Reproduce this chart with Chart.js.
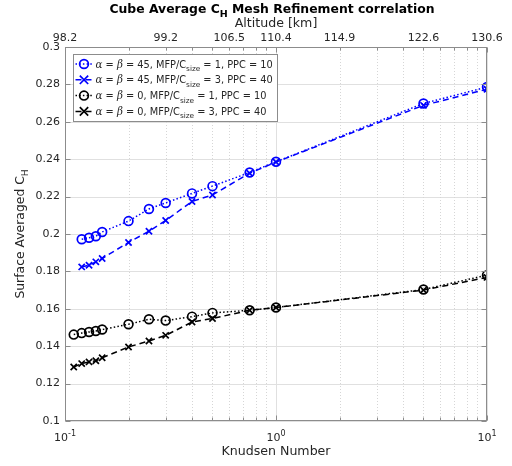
<!DOCTYPE html>
<html>
<head>
<meta charset="utf-8">
<script src="https://cdn.jsdelivr.net/npm/chart.js@4/dist/chart.umd.min.js"></script>
<style>
html,body{margin:0;padding:0;background:#fff;}
#wrap{width:512px;height:466px;position:relative;}
</style>
</head>
<body>
<div id="wrap"><canvas id="c" width="512" height="466"></canvas></div>
<script>
// ---------- data ----------
const knudsenBlue = [0.12, 0.13, 0.14, 0.15, 0.2, 0.25, 0.3, 0.4, 0.5, 0.75, 1, 5, 10];
const knudsenBlack = [0.11, 0.12, 0.13, 0.14, 0.15, 0.2, 0.25, 0.3, 0.4, 0.5, 0.75, 1, 5, 10];
const blueCircles = [0.1972, 0.1980, 0.1988, 0.2011, 0.2069, 0.2134, 0.2166, 0.2217, 0.2256, 0.2329, 0.2386, 0.2698, 0.2786];
const blueCrosses = [0.1824, 0.1833, 0.1851, 0.1869, 0.1955, 0.2015, 0.2072, 0.2174, 0.2209, 0.2325, 0.2385, 0.2688, 0.2774];
const blackCircles = [0.1462, 0.1470, 0.1476, 0.1481, 0.1489, 0.1517, 0.1544, 0.1537, 0.1558, 0.1578, 0.1592, 0.1607, 0.1703, 0.1780];
const blackCrosses = [0.1289, 0.1307, 0.1316, 0.1322, 0.1338, 0.1396, 0.1428, 0.1458, 0.1529, 0.1548, 0.1592, 0.1607, 0.1700, 0.1768];
const yTickValues = [0.1, 0.12, 0.14, 0.16, 0.18, 0.2, 0.22, 0.24, 0.26, 0.28, 0.3];
const xTickValues = [0.1, 0.2, 0.3, 0.4, 0.5, 0.6, 0.7, 0.8, 0.9, 1, 2, 3, 4, 5, 6, 7, 8, 9, 10];
const xMajorValues = [0.1, 1, 10];
const xMajorExponents = ['-1', '0', '1'];
const altitudeKn = [0.1, 0.3, 0.6, 1, 2, 5, 10];
const altitudeLabels = ['98.2', '99.2', '106.5', '110.4', '114.9', '122.6', '130.6'];
const legendParams = [
  {ab: '45', mfp: '1', ppc: '10'},
  {ab: '45', mfp: '3', ppc: '40'},
  {ab: '0', mfp: '1', ppc: '10'},
  {ab: '0', mfp: '3', ppc: '40'}
];

// ---------- styling ----------
const FONT = "'DejaVu Sans', sans-serif";
const TXT = '#262626';
const BLUE = '#0000ff';
const BLACK = '#000000';
const DOT = [1.5, 2.2];
const DASH = [6, 4];

function pts(xs, ys) { return xs.map((x, i) => ({x: x, y: ys[i]})); }
function ds(label, xs, ys, color, dash, style) {
  return {
    label: label, data: pts(xs, ys),
    borderColor: color, backgroundColor: 'rgba(0,0,0,0)',
    borderWidth: 1.5, borderDash: dash, tension: 0, fill: false,
    pointStyle: style, pointRadius: 4.4, pointBorderWidth: 1.7,
    pointBorderColor: color, pointBackgroundColor: 'rgba(0,0,0,0)',
    xAxisID: 'x', yAxisID: 'y'
  };
}
function legendLabel(p) {
  return '\u03B1 = \u03B2 = ' + p.ab + ', MFP/Csize = ' + p.mfp + ', PPC = ' + p.ppc;
}

const datasets = [
  ds(legendLabel(legendParams[0]), knudsenBlue, blueCircles, BLUE, DOT, 'circle'),
  ds(legendLabel(legendParams[1]), knudsenBlue, blueCrosses, BLUE, DASH, 'crossRot'),
  ds(legendLabel(legendParams[2]), knudsenBlack, blackCircles, BLACK, DOT, 'circle'),
  ds(legendLabel(legendParams[3]), knudsenBlack, blackCrosses, BLACK, DASH, 'crossRot')
];

function richWidth(ctx, segs) {
  let w = 0;
  segs.forEach(s => { ctx.font = s.font; w += ctx.measureText(s.t).width; });
  return w;
}
function drawRich(ctx, segs, x, y, align) {
  const w = richWidth(ctx, segs);
  let cx = align === 'center' ? x - w / 2 : x;
  ctx.textBaseline = 'alphabetic';
  ctx.textAlign = 'left';
  segs.forEach(s => {
    ctx.font = s.font;
    ctx.fillText(s.t, cx, y + (s.dy || 0));
    cx += ctx.measureText(s.t).width;
  });
}

function drawMarker(ctx, style, x, y, r) {
  ctx.beginPath();
  if (style === 'circle') {
    ctx.arc(x, y, r, 0, Math.PI * 2);
  } else {
    const d = r * 0.95;
    ctx.moveTo(x - d, y - d); ctx.lineTo(x + d, y + d);
    ctx.moveTo(x + d, y - d); ctx.lineTo(x - d, y + d);
  }
  ctx.stroke();
}

const deco = {
  id: 'deco',
  beforeDatasetsDraw(chart) {
    const {ctx, chartArea: a, scales: {x, y}} = chart;
    ctx.save();
    ctx.lineWidth = 1;
    ctx.strokeStyle = '#e0e0e0';
    yTickValues.forEach(v => {
      const py = Math.round(y.getPixelForValue(v)) + 0.5;
      ctx.beginPath(); ctx.moveTo(a.left, py); ctx.lineTo(a.right, py); ctx.stroke();
    });
    xTickValues.forEach(v => {
      const px = Math.round(x.getPixelForValue(v)) + 0.5;
      const major = xMajorValues.indexOf(v) >= 0;
      ctx.setLineDash(major ? [] : [1, 2]);
      ctx.strokeStyle = major ? '#e0e0e0' : '#d6d6d6';
      ctx.beginPath(); ctx.moveTo(px, a.top); ctx.lineTo(px, a.bottom); ctx.stroke();
    });
    ctx.restore();
  },
  afterDatasetsDraw(chart) {
    const {ctx, chartArea: a, scales: {x, y}} = chart;
    ctx.save();
    ctx.strokeStyle = '#8c8c8c';
    ctx.lineWidth = 1;
    const L = Math.round(a.left) + 0.5, R = Math.round(a.right) - 0.5;
    const T = Math.round(a.top) + 0.5, B = Math.round(a.bottom) - 0.5;
    ctx.strokeRect(L, T, R - L, B - T);
    yTickValues.forEach(v => {
      const py = Math.round(y.getPixelForValue(v)) + 0.5;
      ctx.beginPath();
      ctx.moveTo(L, py); ctx.lineTo(L + 5, py);
      ctx.moveTo(R, py); ctx.lineTo(R - 5, py);
      ctx.stroke();
    });
    xTickValues.forEach(v => {
      const px = Math.round(x.getPixelForValue(v)) + 0.5;
      const len = xMajorValues.indexOf(v) >= 0 ? 5 : 3;
      ctx.beginPath();
      ctx.moveTo(px, B); ctx.lineTo(px, B - len);
      ctx.moveTo(px, T); ctx.lineTo(px, T + len);
      ctx.stroke();
    });

    // x major tick labels with superscript exponent
    ctx.fillStyle = TXT;
    xMajorValues.forEach((v, i) => {
      const px = x.getPixelForValue(v);
      drawRich(ctx, [
        {t: '10', font: "11px " + FONT},
        {t: xMajorExponents[i], font: "8px " + FONT, dy: -5}
      ], px, a.bottom + 20, 'center');
    });

    // legend
    const bx = Math.round(a.left) + 8.5, by = Math.round(a.top) + 7.5;
    const bw = 204, bh = 67;
    ctx.fillStyle = '#ffffff';
    ctx.fillRect(bx, by, bw, bh);
    ctx.strokeStyle = '#8c8c8c';
    ctx.lineWidth = 1;
    ctx.strokeRect(bx, by, bw, bh);
    chart.data.datasets.forEach((d, i) => {
      const p = legendParams[i];
      const ry = by + 9.5 + i * 15.8;
      ctx.strokeStyle = d.borderColor;
      ctx.lineWidth = 1.5;
      ctx.setLineDash(d.borderDash);
      ctx.beginPath(); ctx.moveTo(bx + 2, ry); ctx.lineTo(bx + 19, ry); ctx.stroke();
      ctx.setLineDash([]);
      ctx.lineWidth = 1.7;
      drawMarker(ctx, d.pointStyle, bx + 10.5, ry, 4.4);
      ctx.fillStyle = TXT;
      const f = "9.8px " + FONT;
      const gf = "italic 10.3px 'DejaVu Serif', serif";
      const sf = "7.3px " + FONT;
      drawRich(ctx, [
        {t: '\u03B1', font: gf},
        {t: ' = ', font: f},
        {t: '\u03B2', font: gf},
        {t: ' = ' + p.ab + ', MFP/C', font: f},
        {t: 'size', font: sf, dy: 3.5},
        {t: ' = ' + p.mfp + ', PPC = ' + p.ppc, font: f}
      ], bx + 22, ry + 3.5, 'left');
    });
    ctx.restore();
  },
  afterDraw(chart) {
    const {ctx, chartArea: a} = chart;
    ctx.save();
    ctx.fillStyle = '#000';
    const cx = (a.left + a.right) / 2;
    drawRich(ctx, [
      {t: 'Cube Average C', font: "bold 12.4px " + FONT},
      {t: 'H', font: "bold 9.5px " + FONT, dy: 4},
      {t: ' Mesh Refinement correlation', font: "bold 12.4px " + FONT}
    ], cx - 4, 13, 'center');
    ctx.fillStyle = TXT;
    ctx.translate(24, (a.top + a.bottom) / 2);
    ctx.rotate(-Math.PI / 2);
    drawRich(ctx, [
      {t: 'Surface Averaged C', font: "12.4px " + FONT},
      {t: 'H', font: "9px " + FONT, dy: 3.5}
    ], 0, 0, 'center');
    ctx.restore();
  }
};

new Chart(document.getElementById('c'), {
  type: 'line',
  data: {datasets: datasets},
  options: {
    responsive: false,
    animation: false,
    events: [],
    layout: {padding: {left: 0, right: 25, top: 0, bottom: 0}},
    plugins: {legend: {display: false}, title: {display: false}, tooltip: {enabled: false}},
    scales: {
      x: {
        type: 'logarithmic', position: 'bottom', min: 0.1, max: 10,
        grid: {display: false, drawTicks: false},
        border: {display: false},
        afterBuildTicks: s => { s.ticks = xTickValues.map(v => ({value: v})); },
        afterFit: s => { s.height = 45; },
        ticks: {
          autoSkip: false, maxRotation: 0, padding: 6, color: TXT,
          font: {family: FONT, size: 11},
          callback: () => ''
        },
        title: {display: true, text: 'Knudsen Number', color: TXT, font: {family: FONT, size: 12.6}, padding: {top: 0, bottom: 7}}
      },
      x2: {
        type: 'logarithmic', position: 'top', min: 0.1, max: 10,
        grid: {display: false, drawTicks: false},
        border: {display: false},
        afterBuildTicks: s => { s.ticks = altitudeKn.map(v => ({value: v})); },
        afterFit: s => { s.height = 47; },
        ticks: {
          autoSkip: false, maxRotation: 0, padding: 2, color: TXT,
          font: {family: FONT, size: 11},
          callback: (v, i) => altitudeLabels[i]
        },
        title: {display: true, text: 'Altitude [km]', color: TXT, font: {family: FONT, size: 12.6}, padding: {top: 16, bottom: 0}}
      },
      y: {
        type: 'linear', position: 'left', min: 0.1, max: 0.3,
        grid: {display: false, drawTicks: false},
        border: {display: false},
        afterBuildTicks: s => { s.ticks = yTickValues.map(v => ({value: v})); },
        afterFit: s => { s.width = 65; },
        ticks: {
          padding: 5, color: TXT, font: {family: FONT, size: 11},
          callback: v => String(Number(v.toFixed(2)))
        }
      }
    }
  },
  plugins: [deco]
});
</script>
</body>
</html>
